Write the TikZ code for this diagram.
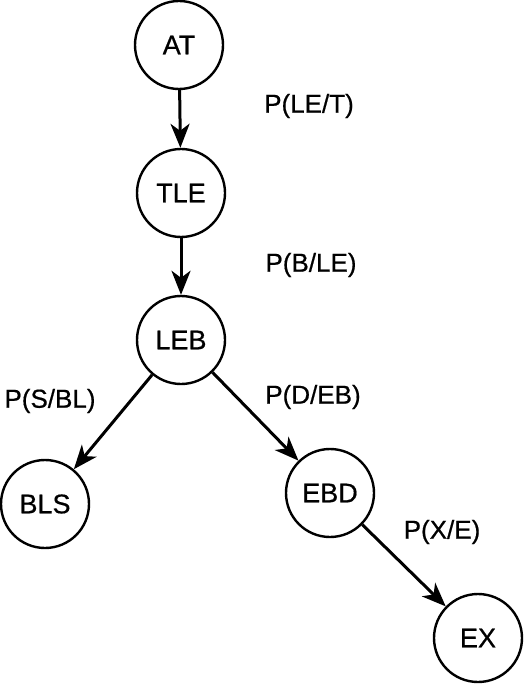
\documentclass[tikz,border=0pt]{standalone}
\usepackage{fontspec}
\newfontfamily\diagfont{Liberation Sans}[FakeBold=0.6]
\usetikzlibrary{arrows.meta}
\begin{document}
\begin{tikzpicture}[x=1pt,y=-1pt,
  state/.style={circle,draw,line width=2.4pt,minimum size=88pt,inner sep=0pt,font=\diagfont\fontsize{27}{30}\selectfont},
  lbl/.style={font=\diagfont\fontsize{26}{30}\selectfont},
  edge/.style={line width=3pt,-{Stealth[length=24pt,width=19pt,inset=7pt]}}]
\useasboundingbox (0,0) rectangle (528,684);
\node[state] (AT)  at (179,45) {AT};
\node[state] (TLE) at (181,193) {TLE};
\node[state] (LEB) at (181,340) {LEB};
\node[state] (BLS) at (45,504) {BLS};
\node[state] (EBD) at (330,493) {EBD};
\node[state] (EX)  at (478,638) {EX};
\draw[edge] (AT) -- (TLE);
\draw[edge] (TLE) -- (LEB);
\draw[edge] (LEB) -- (BLS);
\draw[edge] (LEB) -- (EBD);
\draw[edge] (EBD) -- (EX);
\node[lbl] (l1) at (309,106) {P(LE/T)};
\node[lbl] (l2) at (311,265) {P(B/LE)};
\node[lbl] (l3) at (50,401) {P(S/BL)};
\node[lbl] (l4) at (313,397) {P(D/EB)};
\node[lbl] (l5) at (442,532) {P(X/E)};
\end{tikzpicture}
\end{document}
